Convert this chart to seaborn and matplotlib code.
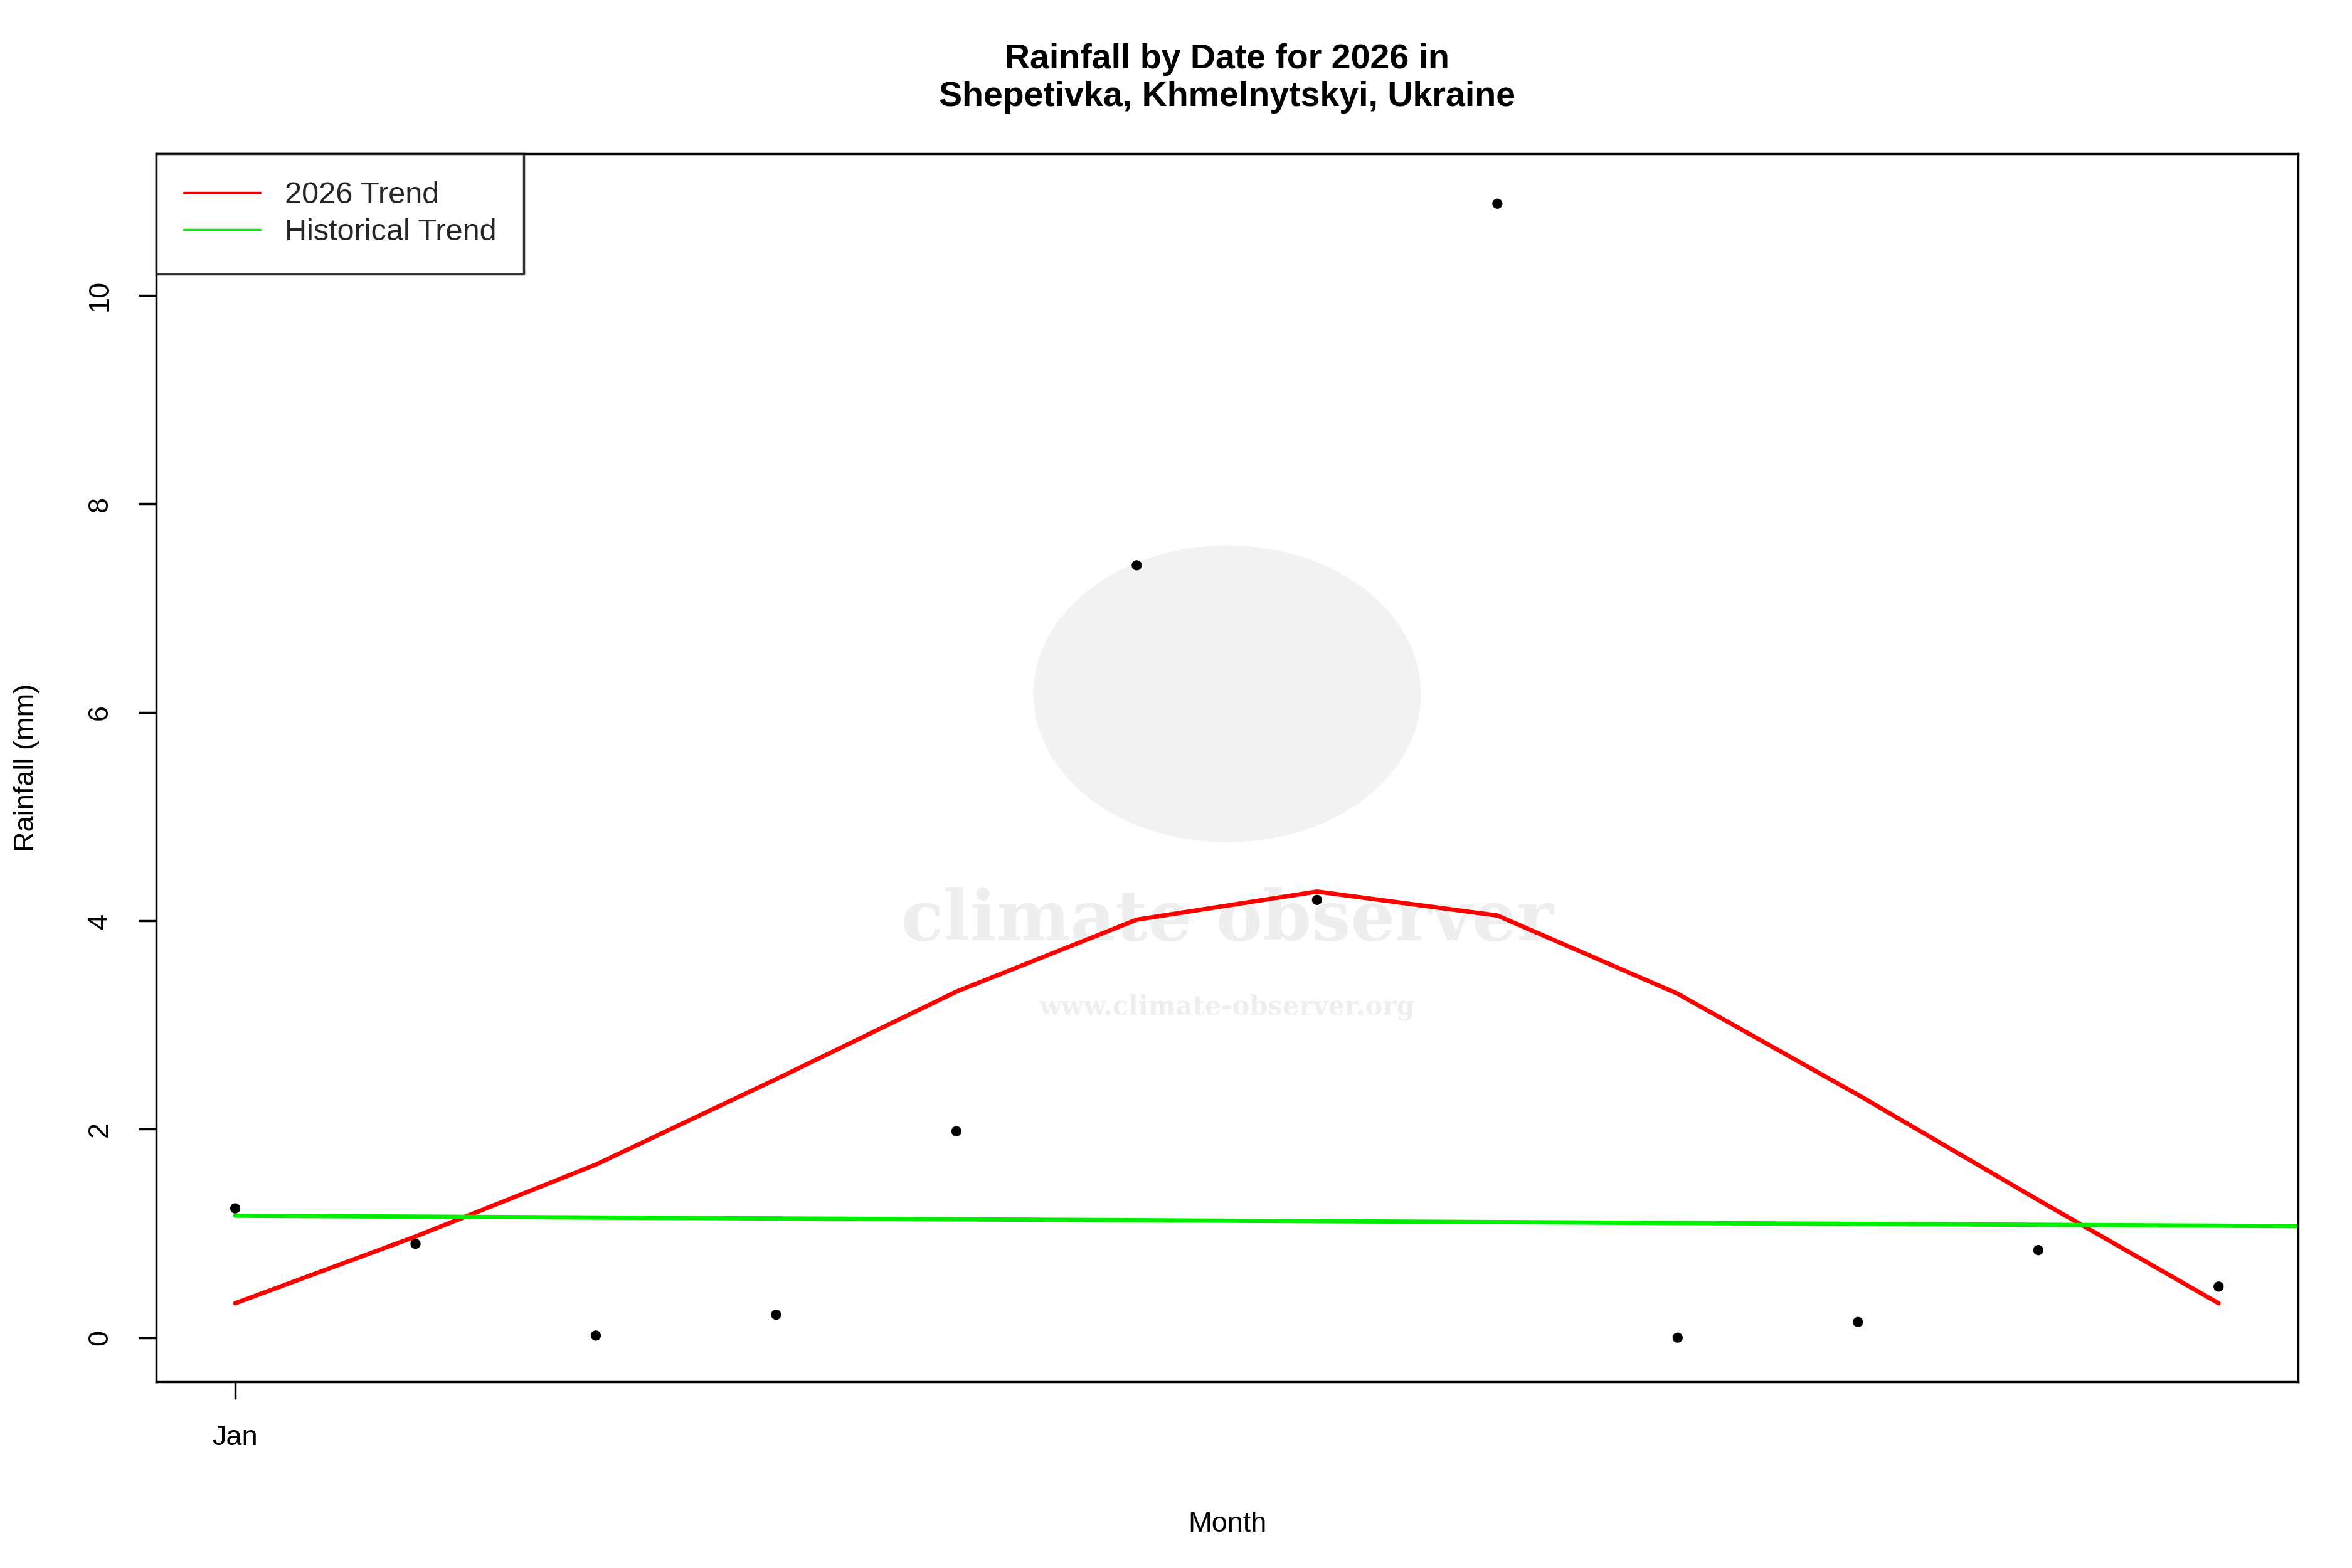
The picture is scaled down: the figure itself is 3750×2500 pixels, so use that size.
import matplotlib
matplotlib.use("Agg")
import matplotlib.pyplot as plt
import seaborn as sns
import pandas as pd
from matplotlib.patches import Ellipse

# valores
meses = list(range(1, 13))
lluvia = [1.24, 0.90, 0.02, 0.22, 1.98, 7.41, 4.20, 10.88, 0.00, 0.15, 0.84, 0.49]
tendencia_2026 = [0.33, 0.97, 1.66, 2.48, 3.32, 4.01, 4.28, 4.05, 3.30, 2.33, 1.32, 0.33]
hist_x = [1, 12.44]
hist_y = [1.17, 1.07]

df = pd.DataFrame({"mes": meses, "lluvia": lluvia, "trend": tendencia_2026})

sns.set_theme(style="white")
plt.rcParams['font.family'] = ['Liberation Sans', 'DejaVu Sans']

fig = plt.figure(figsize=(15, 10), dpi=250)
ax = fig.add_axes([0.0665, 0.119, 0.9105, 0.783])

# marca de agua
ax.add_patch(Ellipse((0.5, 0.56), 0.18, 0.24, transform=ax.transAxes,
                     color="#f0f3f0", zorder=0))
ax.text(0.5, 0.375, "climate observer", transform=ax.transAxes, ha="center",
        va="center", fontsize=32, fontweight="bold", color="#eeeeee", zorder=0,
        family="DejaVu Serif")
ax.text(0.5, 0.305, "www.climate-observer.org", transform=ax.transAxes, ha="center",
        va="center", fontsize=12, fontweight="bold", color="#eeeeee", zorder=0,
        family="DejaVu Serif")

sns.scatterplot(data=df, x="mes", y="lluvia", color="black", s=22, ax=ax, zorder=3,
                edgecolor="none")
sns.lineplot(data=df, x="mes", y="trend", color="red", lw=2, ax=ax, label="2026 Trend")
sns.lineplot(x=hist_x, y=hist_y, color="#00ee00", lw=2, ax=ax, label="Historical Trend")

ax.set_xlim(0.563, 12.44)
ax.set_ylim(-0.42, 11.36)
ax.set_xticks([1])
ax.set_xticklabels(["Jan"])
ax.set_yticks([0, 2, 4, 6, 8, 10])
ax.set_yticklabels(["0", "2", "4", "6", "8", "10"], rotation=90, va="center")
ax.tick_params(axis="both", direction="out", length=8, width=1, labelsize=13,
               bottom=True, left=True, colors="black", pad=12)
for s in ax.spines.values():
    s.set_color("black")
    s.set_linewidth(1)
ax.set_xlabel("Month", fontsize=13, labelpad=28, color="black")
ax.set_ylabel("Rainfall (mm)", fontsize=13, labelpad=22, color="black")
ax.set_title("Rainfall by Date for 2026 in\nShepetivka, Khmelnytskyi, Ukraine",
             fontsize=16, fontweight="bold", pad=22, color="black")

leg = ax.legend(loc="upper left", fontsize=14, frameon=True, fancybox=False,
                borderaxespad=0, handlelength=2.5, borderpad=0.9, labelspacing=0.3)
leg.get_frame().set_edgecolor("black")
leg.get_frame().set_linewidth(1)
for l in leg.get_lines():
    l.set_linewidth(1)

fig.savefig("out.png", dpi=250)
